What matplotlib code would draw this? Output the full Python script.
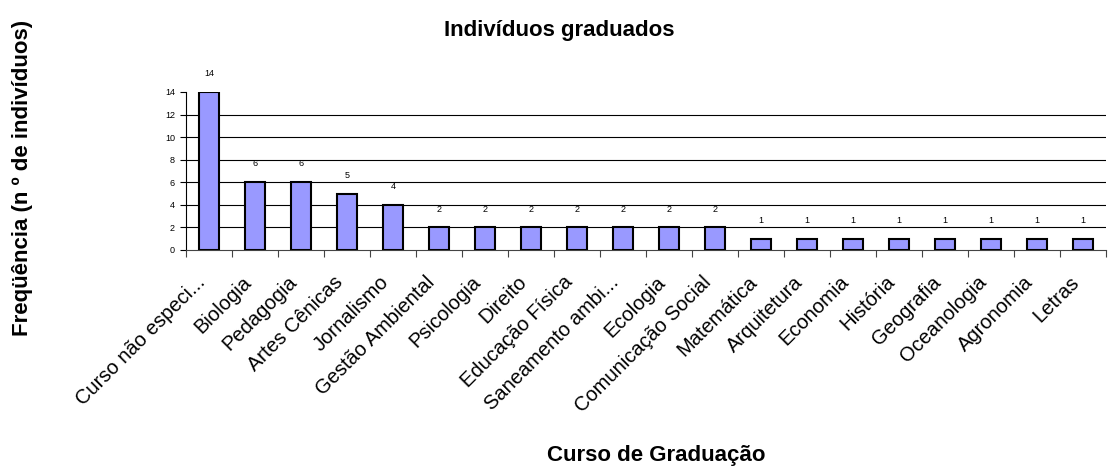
import numpy as np
import matplotlib.pyplot as plt
import matplotlib.transforms as mtransforms

plt.rcParams['font.family'] = ['Liberation Sans', 'DejaVu Sans']

# dados
cursos = ["Curso não especi...", "Biologia", "Pedagogia", "Artes Cênicas", "Jornalismo",
          "Gestão Ambiental", "Psicologia", "Direito", "Educação Física",
          "Saneamento ambi...", "Ecologia", "Comunicação Social", "Matemática",
          "Arquitetura", "Economia", "História", "Geografia", "Oceanologia",
          "Agronomia", "Letras"]
freq = [14, 6, 6, 5, 4, 2, 2, 2, 2, 2, 2, 2, 1, 1, 1, 1, 1, 1, 1, 1]
yticks = [0, 2, 4, 6, 8, 10, 12, 14]

fig = plt.figure(figsize=(11.09, 4.69), dpi=100)
ax = fig.add_axes([0.1677, 0.467, 0.8296, 0.337])

x = np.arange(len(cursos))
bars = ax.bar(x, freq, width=0.42, color='#9999FF', edgecolor='black', linewidth=1.5, zorder=3)

for xi, v in zip(x, freq):
    ax.annotate(str(v), (xi, v), xytext=(0, 10), textcoords='offset points',
                ha='center', va='bottom', fontsize=6.5)

ax.set_xlim(-0.5, len(cursos) - 0.5)
ax.set_ylim(0, 14)
ax.set_yticks(yticks)
ax.set_yticklabels([str(t) for t in yticks], fontsize=6.5)
for t in yticks[1:-1]:
    ax.axhline(t, color='black', linewidth=0.8, zorder=1)

# ticks entre categorias, rotulos no centro
ax.set_xticks(x)
ax.set_xticklabels(cursos, rotation=45, ha='right', va='center', rotation_mode='anchor', fontsize=14.5)
ax.tick_params(axis='x', which='major', length=0, pad=21)
ax.set_xticks(np.arange(len(cursos) + 1) - 0.5, minor=True)
ax.tick_params(axis='x', which='minor', length=5, width=0.8, color='#444444')
ax.tick_params(axis='y', length=4, width=0.8, pad=4)

# desloca os rotulos um pouco para a esquerda
shift = mtransforms.ScaledTranslation(-0.07, 0, fig.dpi_scale_trans)
for lbl in ax.get_xticklabels():
    lbl.set_transform(lbl.get_transform() + shift)

ax.spines['top'].set_visible(False)
ax.spines['right'].set_visible(False)
ax.spines['bottom'].set_color('#444444')
ax.spines['left'].set_linewidth(0.8)

fig.text(0.504, 0.935, "Indivíduos graduados", ha='center', va='center', fontsize=16, fontweight='bold')
fig.text(0.592, 0.028, "Curso de Graduação", ha='center', va='center', fontsize=16, fontweight='bold')
fig.text(0.02, 0.62, "Freqüência (n º de indivíduos)", ha='center', va='center', rotation=90,
         fontsize=16, fontweight='bold')

fig.savefig('out.png', dpi=100)
